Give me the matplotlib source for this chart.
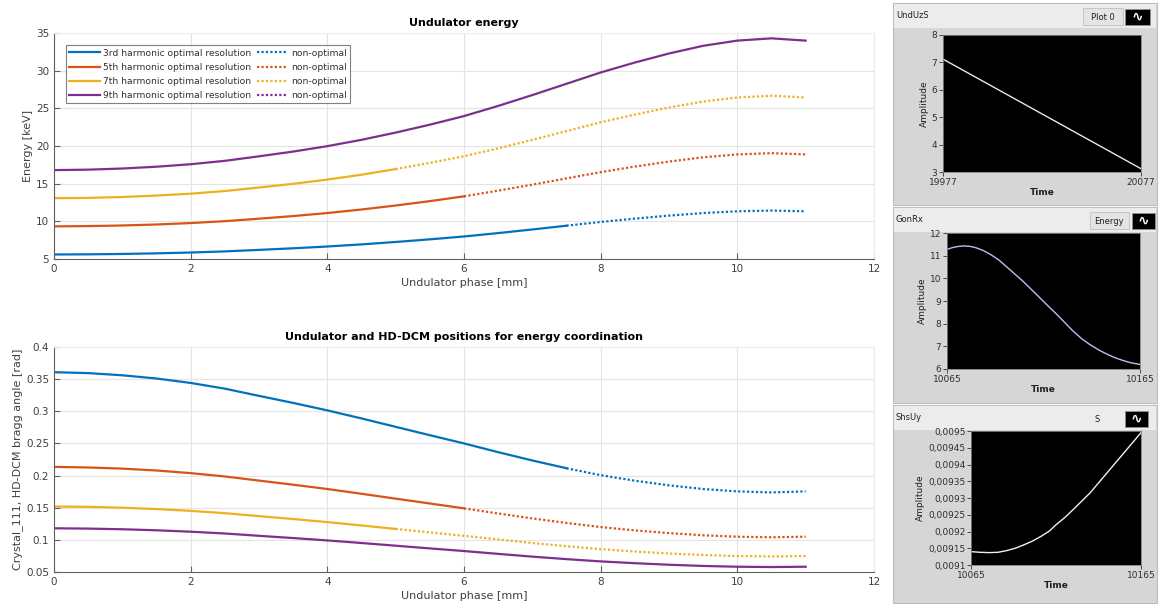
import matplotlib.pyplot as plt
from matplotlib.patches import Rectangle
from matplotlib.ticker import FuncFormatter
import numpy as np

W, H = 1159, 607

# undulator phase [mm]
phase = [0, 0.5, 1, 1.5, 2, 2.5, 3, 3.5, 4, 4.5, 5, 5.5, 6, 6.5, 7, 7.5,
         8, 8.5, 9, 9.5, 10, 10.5, 11]

# energy [keV] per harmonic
e3 = [5.60, 5.62, 5.67, 5.75, 5.86, 6.01, 6.21, 6.42, 6.66, 6.94, 7.26, 7.61,
      7.99, 8.44, 8.92, 9.42, 9.92, 10.36, 10.76, 11.10, 11.33, 11.43, 11.33]
e5 = [9.33, 9.37, 9.45, 9.58, 9.77, 10.02, 10.35, 10.70, 11.10, 11.57, 12.10, 12.68,
      13.32, 14.07, 14.87, 15.70, 16.53, 17.27, 17.93, 18.50, 18.88, 19.05, 18.88]
e7 = [13.07, 13.11, 13.23, 13.42, 13.67, 14.02, 14.49, 14.98, 15.54, 16.19, 16.94, 17.76,
      18.64, 19.69, 20.81, 21.98, 23.15, 24.17, 25.11, 25.90, 26.44, 26.67, 26.44]
e9 = [16.80, 16.86, 17.01, 17.25, 17.58, 18.03, 18.63, 19.26, 19.98, 20.82, 21.78, 22.83,
      23.97, 25.32, 26.76, 28.26, 29.76, 31.08, 32.28, 33.30, 33.99, 34.29, 33.99]

# bragg angle [rad] per harmonic
b3 = [0.3608, 0.3594, 0.3560, 0.3510, 0.3441, 0.3352, 0.3240, 0.3130, 0.3014, 0.2889,
      0.2758, 0.2628, 0.2500, 0.2364, 0.2235, 0.2114, 0.2006, 0.1920, 0.1848, 0.1791,
      0.1754, 0.1738, 0.1754]
b5 = [0.2135, 0.2126, 0.2108, 0.2079, 0.2038, 0.1986, 0.1922, 0.1858, 0.1791, 0.1717,
      0.1641, 0.1566, 0.1490, 0.1410, 0.1333, 0.1263, 0.1199, 0.1147, 0.1105, 0.1071,
      0.1049, 0.1040, 0.1049]
b7 = [0.1518, 0.1514, 0.1500, 0.1479, 0.1451, 0.1415, 0.1369, 0.1324, 0.1276, 0.1224,
      0.1170, 0.1116, 0.1063, 0.1006, 0.0951, 0.0901, 0.0855, 0.0819, 0.0788, 0.0764,
      0.0748, 0.0742, 0.0748]
b9 = [0.1180, 0.1175, 0.1165, 0.1149, 0.1127, 0.1099, 0.1063, 0.1028, 0.0991, 0.0951,
      0.0909, 0.0867, 0.0826, 0.0782, 0.0739, 0.0700, 0.0665, 0.0637, 0.0613, 0.0594,
      0.0582, 0.0577, 0.0582]

harmonics = ['3rd', '5th', '7th', '9th']
opt_end = [7.5, 6.0, 5.0, 11.0]   # phase where optimal resolution ends
colors = ['#0072BD', '#D95319', '#EDB120', '#7E2F8E']

# LabVIEW panels
und_t = [19977, 20002, 20027, 20052, 20077]
und_v = [7.12, 6.12, 5.12, 4.12, 3.12]
gon_t = [10065, 10068, 10071, 10074, 10077, 10080, 10084, 10088, 10092, 10096,
         10100, 10104, 10108, 10113, 10118, 10122, 10126, 10130, 10135, 10139,
         10144, 10148, 10152, 10156, 10160, 10165]
gon_v = [11.28, 11.36, 11.41, 11.43, 11.41, 11.35, 11.22, 11.03, 10.80, 10.50,
         10.20, 9.90, 9.57, 9.15, 8.73, 8.40, 8.05, 7.70, 7.32, 7.08,
         6.82, 6.65, 6.50, 6.38, 6.28, 6.20]
shs_t = [10065, 10070, 10076, 10081, 10086, 10091, 10096, 10101, 10106, 10111,
         10115, 10120, 10125, 10130, 10135, 10140, 10145, 10150, 10155, 10160, 10165]
shs_v = [0.00914, 0.009138, 0.009137, 0.009138, 0.009143, 0.00915, 0.00916,
         0.009171, 0.009185, 0.009201, 0.00922, 0.009241, 0.009265, 0.00929,
         0.009315, 0.009345, 0.009375, 0.009405, 0.009435, 0.009465, 0.009495]


def box(x0, y0, x1, y1):
    # pixel box (top-left origin) -> figure fraction rect
    return [x0 / W, 1 - y1 / H, (x1 - x0) / W, (y1 - y0) / H]


plt.rcParams['font.family'] = 'DejaVu Sans'
fig = plt.figure(figsize=(W / 100, H / 100), dpi=100)
fig.patch.set_facecolor('white')

tc = '#404040'


def matlab_axes(rect):
    ax = fig.add_axes(rect)
    ax.grid(True, color='#e4e4e4', linewidth=0.8)
    ax.set_axisbelow(True)
    for s in ['left', 'bottom']:
        ax.spines[s].set_color('#606060')
    for s in ['top', 'right']:
        ax.spines[s].set_color('#ececec')
    ax.tick_params(direction='in', labelsize=7.5, colors='#606060',
                   labelcolor=tc, length=4, top=False, right=False)
    ax.set_xlim(0, 12)
    ax.set_xticks([0, 2, 4, 6, 8, 10, 12])
    return ax


x = np.array(phase)

# --- Undulator energy ---
ax1 = matlab_axes(box(54, 33, 874, 259))
h_opt, h_non = [], []
for i, e in enumerate([e3, e5, e7, e9]):
    e = np.array(e)
    m = x <= opt_end[i]
    l1, = ax1.plot(x[m], e[m], color=colors[i], lw=1.6,
                   label=harmonics[i] + ' harmonic optimal resolution')
    n = x >= opt_end[i]
    l2, = ax1.plot(x[n], e[n], color=colors[i], lw=1.6, ls=(0, (1, 1)),
                   label='non-optimal')
    h_opt.append(l1)
    h_non.append(l2)
ax1.set_ylim(5, 35)
ax1.set_yticks([5, 10, 15, 20, 25, 30, 35])
ax1.set_title('Undulator energy', fontsize=8, fontweight='bold', pad=5)
ax1.set_xlabel('Undulator phase [mm]', fontsize=8, color=tc, labelpad=3)
ax1.set_ylabel('Energy [keV]', fontsize=8, color=tc, labelpad=2)
leg = ax1.legend(h_opt + h_non, [h.get_label() for h in h_opt + h_non],
                 ncol=2, loc='upper left', fontsize=6.6, frameon=True,
                 fancybox=False, edgecolor='#606060', handlelength=3.4,
                 handletextpad=0.3, columnspacing=0.6, labelspacing=0.55,
                 borderpad=0.35, bbox_to_anchor=(0.009, 0.965))
leg.get_frame().set_linewidth(0.8)
for t in leg.get_texts():
    t.set_color('#303030')

# --- Bragg angle ---
ax2 = matlab_axes(box(54, 347, 874, 572))
for i, b in enumerate([b3, b5, b7, b9]):
    b = np.array(b)
    m = x <= opt_end[i]
    ax2.plot(x[m], b[m], color=colors[i], lw=1.6)
    n = x >= opt_end[i]
    ax2.plot(x[n], b[n], color=colors[i], lw=1.6, ls=(0, (1, 1)))
ax2.set_ylim(0.05, 0.4)
ax2.set_yticks([0.05, 0.1, 0.15, 0.2, 0.25, 0.3, 0.35, 0.4])
ax2.yaxis.set_major_formatter(FuncFormatter(lambda v, p: ('%.2f' % v).rstrip('0')))
ax2.set_title('Undulator and HD-DCM positions for energy coordination',
              fontsize=8, fontweight='bold', pad=5)
ax2.set_xlabel('Undulator phase [mm]', fontsize=8, color=tc, labelpad=3)
ax2.set_ylabel('Crystal_111, HD-DCM bragg angle [rad]', fontsize=8, color=tc,
               labelpad=2)


# --- LabVIEW style panels ---
def fig_rect(x0, y0, x1, y1, **kw):
    fig.patches.append(Rectangle((x0 / W, 1 - y1 / H), (x1 - x0) / W,
                                 (y1 - y0) / H, transform=fig.transFigure, **kw))


def panel(frame, plot, name, legend_txt, legend_x, legend_box, icon, t, v,
          ylim, yticks, line_color, fmt=None):
    fx0, fy0, fx1, fy1 = frame
    fig_rect(fx0, fy0, fx1, fy1, facecolor='#d6d6d6', edgecolor='#bdbdbd',
             lw=0.8, zorder=-2)
    fig_rect(fx0 + 1, fy0 + 1, fx1 - 1, fy0 + 25, facecolor='#ececec',
             edgecolor='none', zorder=-1)
    fig.text((fx0 + 3) / W, 1 - (fy0 + 13) / H, name, fontsize=6,
             color='#202020', va='center', ha='left')
    if legend_box:
        fig_rect(legend_box[0], fy0 + 5, legend_box[1], fy0 + 22,
                 facecolor='#e4e4e4', edgecolor='#c0c0c0', lw=0.6, zorder=-1)
    fig.text(legend_x / W, 1 - (fy0 + 14) / H, legend_txt, fontsize=6,
             color='#202020', ha='center', va='center')
    fig_rect(icon[0], fy0 + 6, icon[1], fy0 + 22, facecolor='black',
             edgecolor='#909090', lw=0.6, zorder=-1)
    fig.text((icon[0] + icon[1]) / 2 / W, 1 - (fy0 + 14) / H, '∿', fontsize=10,
             color='white', ha='center', va='center', fontweight='bold')

    ax = fig.add_axes(box(*plot))
    ax.set_facecolor('black')
    ax.plot(t, v, color=line_color, lw=1.0)
    ax.set_xlim(t[0], t[-1])
    ax.set_ylim(*ylim)
    ax.set_yticks(yticks)
    ax.set_xticks([t[0], t[-1]])
    ax.xaxis.set_major_formatter(FuncFormatter(lambda q, p: '%d' % round(q)))
    if fmt:
        ax.yaxis.set_major_formatter(FuncFormatter(fmt))
    for s in ax.spines.values():
        s.set_color('#808080')
        s.set_linewidth(0.6)
    ax.tick_params(labelsize=6.5, colors='#303030', length=3, width=0.6, pad=1)
    ax.set_ylabel('Amplitude', fontsize=6.5, color='#202020', labelpad=2)
    ax.set_xlabel('Time', fontsize=6.5, color='#202020', labelpad=1,
                  fontweight='bold')
    return ax


panel((893, 3, 1157, 205), (943, 35, 1141, 172), 'UndUzS', 'Plot 0', 1103,
      (1083, 1123), (1125, 1150), und_t, und_v, (3, 8), [3, 4, 5, 6, 7, 8],
      '#e8e8e8')
panel((893, 207, 1157, 403), (947, 233, 1140, 369), 'GonRx', 'Energy', 1109,
      (1090, 1129), (1132, 1155), gon_t, gon_v, (6, 12),
      [6, 7, 8, 9, 10, 11, 12], '#c8b8ee')
panel((893, 405, 1157, 603), (971, 431, 1141, 565), 'ShsUy', 'S', 1097,
      None, (1125, 1148), shs_t, shs_v, (0.0091, 0.0095),
      [0.0091, 0.00915, 0.0092, 0.00925, 0.0093, 0.00935, 0.0094, 0.00945, 0.0095],
      '#f0f0f0', fmt=lambda q, p: ('%.5f' % q).rstrip('0').replace('.', ','))

fig.savefig('out.png', dpi=100, facecolor='white')
